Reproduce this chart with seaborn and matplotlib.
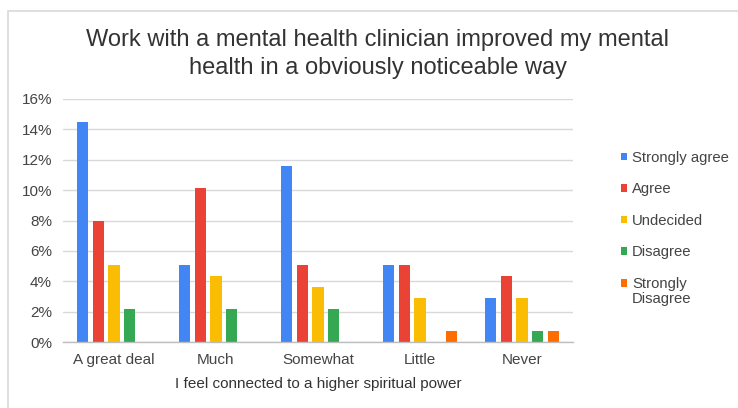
import matplotlib
matplotlib.use("Agg")
import matplotlib.pyplot as plt
import matplotlib.patches as mpatches
from matplotlib.ticker import PercentFormatter
import seaborn as sns
import pandas as pd

categories = ["A great deal", "Much", "Somewhat", "Little", "Never"]
series = ["Strongly agree", "Agree", "Undecided", "Disagree", "Strongly\nDisagree"]
strongly_agree = [14.49, 5.07, 11.59, 5.07, 2.90]
agree = [7.97, 10.14, 5.07, 5.07, 4.35]
undecided = [5.07, 4.35, 3.62, 2.90, 2.90]
disagree = [2.17, 2.17, 2.17, 0.0, 0.72]
strongly_disagree = [0.0, 0.0, 0.0, 0.72, 0.72]
colors = ["#4285F4", "#EA4335", "#FBBC04", "#34A853", "#FF6D01"]
yticks = [0, 2, 4, 6, 8, 10, 12, 14, 16]

rows = []
for s, vals in zip(series, [strongly_agree, agree, undecided, disagree, strongly_disagree]):
    for c, v in zip(categories, vals):
        rows.append({"cat": c, "series": s, "value": v})
df = pd.DataFrame(rows)

sns.set_theme(style="white")
plt.rcParams["font.family"] = ["Liberation Sans", "DejaVu Sans"]

fig = plt.figure(figsize=(7.38, 4.08), dpi=100)
ax = fig.add_axes([63/738, (408-342)/408, (573-63)/738, (342-99)/408])

sns.barplot(data=df, x="cat", y="value", hue="series", order=categories,
            hue_order=series, palette=colors, width=0.78, gap=0.3,
            saturation=1, ax=ax, edgecolor="none")

ax.set_ylim(0, 16)
ax.set_yticks(yticks)
ax.yaxis.set_major_formatter(PercentFormatter(decimals=0))
ax.grid(axis="y", color="#d9d9d9", linewidth=1)
ax.set_axisbelow(True)
for sp in ["top", "right", "left"]:
    ax.spines[sp].set_visible(False)
ax.spines["bottom"].set_color("#bdbdbd")
ax.spines["bottom"].set_linewidth(1)
ax.tick_params(axis="both", length=0, labelsize=11, colors="#444444")
ax.tick_params(axis="x", pad=8)
ax.tick_params(axis="y", pad=8)
ax.set_xlim(-0.5, 4.5)
ax.set_ylabel("")
ax.set_xlabel("I feel connected to a higher spiritual power", fontsize=11,
              color="#333333", labelpad=7)

leg = ax.legend(loc="upper left", bbox_to_anchor=(1.094, 0.786),
                frameon=False, fontsize=10.7, handlelength=0.4, handleheight=0.4,
                handletextpad=0.34, labelspacing=1.17, borderaxespad=0,
                borderpad=0)
for t in leg.get_texts():
    t.set_color("#444444")
    t.set_linespacing(1.15)
last = leg.legend_handles[-1]
last.set_y(last.get_y() + 6)

fig.text(378/738, 1 - 40/408, "Work with a mental health clinician improved my mental",
         ha="center", va="center", fontsize=17, color="#333333")
fig.text(378/738, 1 - 68/408, "health in a obviously noticeable way",
         ha="center", va="center", fontsize=17, color="#333333")

border = mpatches.Rectangle((8/738, -0.05), 1.1, (408-11)/408 + 0.05,
                            transform=fig.transFigure, fill=False,
                            edgecolor="#d9d9d9", linewidth=1.2)
fig.patches.append(border)

fig.savefig("out.png", dpi=100)
